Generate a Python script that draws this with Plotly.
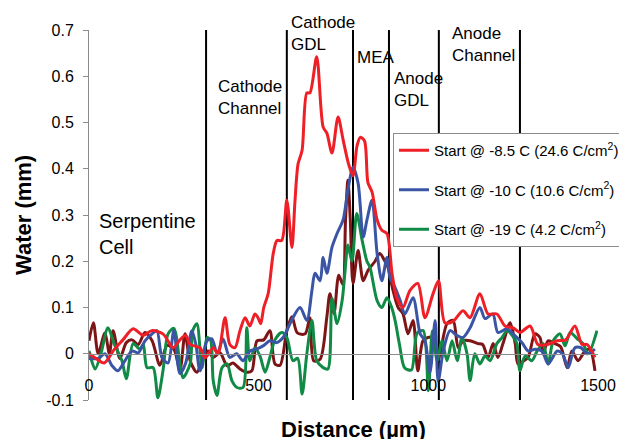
import plotly.graph_objects as go

# ---------------- data ----------------
red_x = [0, 20, 45, 75, 100, 130, 160, 185, 218, 248, 268, 285, 298, 327, 342, 366, 380, 401, 415, 430,
         445, 460, 474, 489, 498, 506, 515, 528, 543, 554, 568, 583, 598, 607, 616, 628, 642, 651, 671, 690,
         701, 716, 734, 749, 765, 778, 790, 800, 812, 822, 834, 849, 863, 878, 893, 907, 925, 946, 969, 990,
         1014, 1030, 1049, 1073, 1102, 1123, 1152, 1176, 1202, 1226, 1250, 1270, 1300, 1323, 1350, 1380,
         1405, 1432, 1453, 1468, 1491]
red_y = [0.0, -0.01, -0.02, 0.01, 0.03, 0.054, 0.04, 0.05, 0.043, 0.013, 0.03, 0.04, 0.02, 0.013, -0.009,
         0.013, 0.0, 0.078, 0.02, 0.013, 0.05, 0.078, 0.06, 0.086, 0.078, 0.065, 0.1, 0.13, 0.217, 0.245,
         0.245, 0.332, 0.23, 0.33, 0.41, 0.44, 0.564, 0.564, 0.642, 0.49, 0.477, 0.434, 0.512, 0.462, 0.41,
         0.385, 0.45, 0.468, 0.46, 0.37, 0.35, 0.29, 0.267, 0.26, 0.174, 0.121, 0.1, 0.137, 0.152, 0.078,
         0.13, 0.158, 0.067, 0.07, 0.093, 0.078, 0.13, 0.086, 0.086, 0.06, 0.056, 0.046, 0.06, 0.02, 0.02,
         0.028, 0.03, 0.06, 0.02, 0.02, -0.008]

blue_x = [0, 27, 47, 68, 85, 106, 127, 145, 165, 186, 200, 215, 233, 250, 268, 285, 303, 315, 327, 348,
          362, 378, 395, 415, 435, 454, 474, 493, 513, 533, 553, 572, 583, 601, 622, 642, 657, 666, 681, 690,
          701, 716, 731, 749, 763, 778, 793, 808, 819, 834, 849, 863, 878, 887, 902, 917, 931, 955, 976, 990,
          1005, 1020, 1029, 1044, 1064, 1083, 1102, 1123, 1152, 1167, 1190, 1205, 1232, 1255, 1276, 1294,
          1315, 1335, 1353, 1380, 1395, 1412, 1432, 1450, 1468, 1491]
blue_y = [-0.01, -0.01, 0.0, -0.026, -0.037, -0.015, 0.006, 0.002, 0.028, 0.043, 0.05, -0.008, -0.02, 0.05,
          -0.043, -0.02, 0.05, 0.02, -0.037, 0.028, 0.032, 0.0, 0.032, -0.008, 0.0, -0.015, 0.006, 0.01,
          0.017, 0.028, 0.024, 0.035, 0.05, 0.078, 0.1, 0.072, 0.137, 0.174, 0.158, 0.208, 0.174, 0.23, 0.26,
          0.29, 0.354, 0.403, 0.369, 0.252, 0.289, 0.332, 0.217, 0.158, 0.208, 0.165, 0.143, 0.115, 0.086,
          0.121, 0.043, 0.028, -0.04, 0.072, -0.06, 0.006, 0.05, 0.04, 0.035, 0.056, 0.1, 0.076, 0.086,
          0.046, 0.054, 0.039, 0.024, 0.006, 0.01, 0.006, -0.022, 0.006, 0.0, -0.03, 0.013, 0.013, 0.0, 0.01]

green_x = [0, 18, 35, 56, 75, 97, 110, 130, 150, 160, 171, 189, 203, 218, 233, 250, 268, 277, 298, 306,
           318, 333, 348, 358, 366, 377, 392, 407, 421, 436, 454, 465, 474, 489, 504, 519, 533, 548, 568, 583,
           601, 615, 628, 642, 657, 671, 690, 704, 716, 731, 746, 754, 763, 775, 789, 805, 819, 828, 849, 863,
           878, 892, 902, 915, 930, 950, 967, 985, 1000, 1012, 1026, 1040, 1055, 1070, 1085, 1099, 1114, 1123,
           1137, 1152, 1167, 1182, 1202, 1217, 1232, 1247, 1261, 1270, 1285, 1305, 1320, 1338, 1353, 1368,
           1388, 1403, 1418, 1438, 1456, 1471, 1497]
green_y = [0.006, -0.033, 0.0, 0.056, 0.02, -0.015, -0.054, 0.022, 0.01, 0.02, -0.03, -0.03, -0.095, -0.037,
           0.043, 0.055, -0.022, -0.052, -0.022, 0.05, 0.065, -0.03, 0.035, 0.03, -0.058, -0.09, -0.03, -0.022,
           -0.058, -0.073, -0.073, 0.056, -0.015, 0.013, -0.005, -0.04, -0.008, 0.03, 0.046, 0.035, -0.015,
           -0.01, -0.087, 0.0, 0.072, -0.015, -0.03, -0.033, 0.12, 0.065, 0.115, 0.174, 0.235, 0.2, 0.303,
           0.245, 0.2, 0.187, 0.115, 0.1, 0.121, 0.1, 0.072, 0.02, -0.03, -0.035, 0.045, 0.05, -0.08, 0.05,
           -0.015, 0.028, -0.015, 0.028, -0.015, 0.035, 0.0, -0.058, 0.0, -0.022, -0.005, -0.015, 0.022, 0.035,
           0.05, 0.04, 0.022, -0.037, -0.005, -0.015, 0.005, 0.022, -0.022, 0.028, 0.043, 0.017, 0.046, 0.033,
           0.022, 0.0, 0.05]

dark_x = [0, 13, 27, 47, 60, 71, 91, 110, 127, 145, 165, 186, 209, 230, 250, 268, 283, 298, 318, 336, 351,
          366, 386, 407, 424, 445, 465, 480, 495, 515, 533, 548, 563, 583, 598, 614, 637, 651, 662, 681, 701,
          710, 722, 736, 748, 756, 763, 770, 778, 793, 808, 822, 843, 857, 872, 881, 896, 911, 925, 940, 955,
          969, 984, 999, 1012, 1029, 1055, 1073, 1088, 1102, 1123, 1146, 1160, 1176, 1191, 1205, 1220, 1241,
          1256, 1264, 1276, 1294, 1314, 1329, 1338, 1353, 1373, 1390, 1409, 1423, 1441, 1462, 1476, 1491]
dark_y = [0.028, 0.067, 0.0, 0.045, 0.0, 0.05, -0.01, 0.024, 0.03, 0.02, 0.046, 0.028, -0.025, 0.018, 0.01,
          -0.035, 0.043, -0.015, -0.04, -0.008, 0.006, -0.008, 0.002, -0.026, -0.02, -0.033, -0.04, -0.037,
          0.028, 0.03, 0.05, -0.022, -0.025, 0.05, 0.08, 0.045, 0.043, 0.078, -0.015, -0.012, 0.08, 0.13,
          0.087, 0.17, 0.15, 0.29, 0.375, 0.29, 0.152, 0.223, 0.158, 0.18, 0.2, 0.217, 0.2, 0.187, 0.137, 0.1,
          0.087, 0.043, 0.072, -0.037, 0.028, 0.035, 0.035, -0.012, 0.065, 0.072, 0.013, 0.028, 0.028, 0.022,
          0.02, -0.008, 0.022, -0.008, 0.022, 0.067, 0.022, -0.022, -0.018, -0.008, 0.043, 0.035, 0.0, 0.028,
          0.022, 0.015, -0.03, 0.006, -0.015, 0.006, 0.01, -0.037]

series_names = ["Start @ -8.5 C (24.6 C/cm<sup>2</sup>)",
                "Start @ -10 C (10.6 C/cm<sup>2</sup>)",
                "Start @ -19 C (4.2 C/cm<sup>2</sup>)"]

boundaries = [345, 583, 778, 884, 1031, 1270]
region_labels = ["Serpentine<br>Cell", "Cathode<br>Channel", "Cathode<br>GDL", "MEA",
                 "Anode<br>GDL", "Anode<br>Channel"]
region_label_x = [24, 374, 589, 784, 893, 1064]
region_label_y = [0.258, 0.555, 0.693, 0.64, 0.572, 0.668]

x_ticks = [0, 500, 1000, 1500]
y_ticks = [-0.1, 0, 0.1, 0.2, 0.3, 0.4, 0.5, 0.6, 0.7]
y_tick_text = ["-0.1", "0", "0.1", "0.2", "0.3", "0.4", "0.5", "0.6", "0.7"]

# ---------------- figure ----------------
FONT = "Liberation Sans, Arial, sans-serif"
fig = go.Figure()

bx, by = [], []
for b in boundaries:
    bx += [b, b, None]
    by += [y_ticks[0], y_ticks[-1], None]
fig.add_trace(go.Scatter(x=bx, y=by, mode="lines", line=dict(color="black", width=2),
                         showlegend=False, hoverinfo="skip"))

line_kw = dict(shape="spline", smoothing=0.8)
fig.add_trace(go.Scatter(x=dark_x, y=dark_y, mode="lines", showlegend=False,
                         line=dict(color="#7d1517", width=3, **line_kw)))
fig.add_trace(go.Scatter(x=green_x, y=green_y, mode="lines", name=series_names[2], legendgroup="g",
                         legendrank=3, line=dict(color="#118a45", width=3, **line_kw)))
fig.add_trace(go.Scatter(x=blue_x, y=blue_y, mode="lines", name=series_names[1], legendgroup="b",
                         legendrank=2, line=dict(color="#3a55a5", width=3, **line_kw)))
fig.add_trace(go.Scatter(x=red_x, y=red_y, mode="lines", name=series_names[0], legendgroup="r",
                         legendrank=1, line=dict(color="#ee1f26", width=3, **line_kw)))

for t, x, y in zip(region_labels, region_label_x, region_label_y):
    fig.add_annotation(x=x, y=y, xref="x", yref="y", text=t, showarrow=False, xanchor="left",
                       yanchor="middle", align="left",
                       font=dict(family=FONT, size=20 if t.startswith("Serp") else 17, color="black"))

fig.add_annotation(xref="paper", yref="paper", x=0, y=0.5, xshift=-66, xanchor="center",
                   yanchor="middle", text="<b>Water (mm)</b>",
                   textangle=-90, showarrow=False, font=dict(family=FONT, size=22, color="black"))
fig.add_annotation(xref="paper", yref="paper", x=0.52, y=0, yshift=-29, xanchor="center",
                   yanchor="middle", text="<b>Distance (µm)</b>",
                   showarrow=False, font=dict(family=FONT, size=22, color="black"))

zero_pos = (0 - y_ticks[0]) / (y_ticks[-1] - y_ticks[0])

fig.update_layout(
    width=619, height=439,
    margin=dict(l=89, r=21, t=30, b=39, autoexpand=False),
    paper_bgcolor="white", plot_bgcolor="white",
    font=dict(family=FONT, color="black"),
    xaxis=dict(range=[0, 1500], anchor="free", position=zero_pos, showline=True, linecolor="#8c8c8c",
               linewidth=1, showgrid=False, zeroline=False, tickvals=x_ticks,
               ticktext=[str(v) for v in x_ticks], ticks="outside", ticklen=17,
               tickcolor="rgba(0,0,0,0)", tickfont=dict(size=16), automargin=False),
    yaxis=dict(range=[y_ticks[0], y_ticks[-1]], showline=True, linecolor="#8c8c8c", linewidth=1,
               showgrid=False, zeroline=False, tickvals=y_ticks, ticktext=y_tick_text, ticks="outside",
               ticklen=5, tickcolor="#8c8c8c", tickfont=dict(size=16), ticklabelstandoff=6,
               automargin=False),
    legend=dict(x=(393 - 89) / (619 - 89 - 21), y=(400 - 133) / (400 - 30),
                xanchor="left", yanchor="top", traceorder="grouped", tracegroupgap=17,
                bordercolor="#8c8c8c", borderwidth=1, bgcolor="white",
                font=dict(family=FONT, size=15, color="black")),
    showlegend=True,
)

fig.write_html("out.html", config={"displayModeBar": False},
               post_script="document.body.style.margin='0px';document.body.style.overflow='hidden';")
